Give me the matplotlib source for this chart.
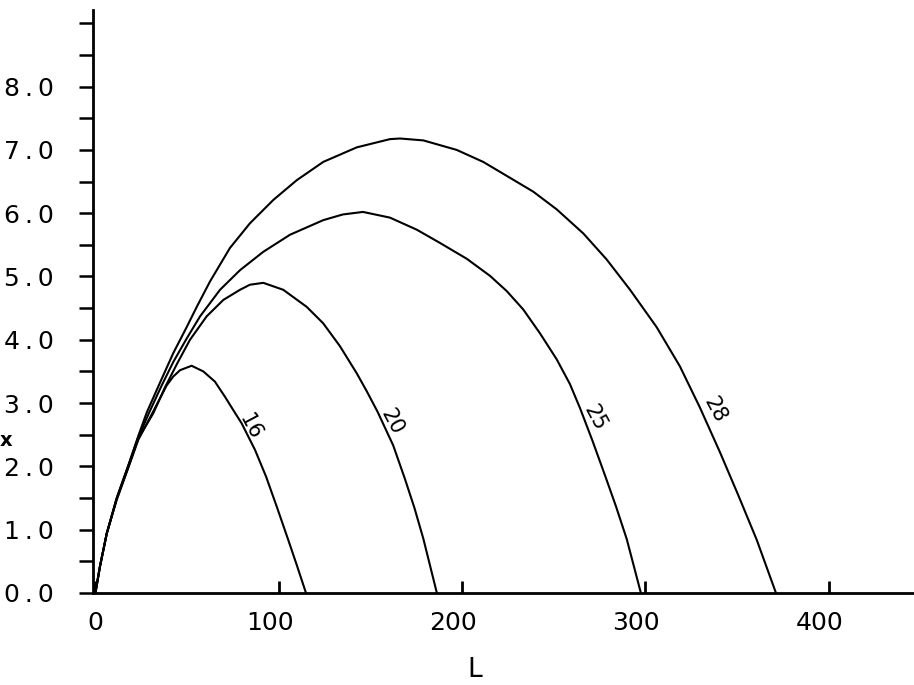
import matplotlib
matplotlib.use("Agg")
import matplotlib.pyplot as plt
import matplotlib.transforms as mtransforms

# curves, L vs x, one per labelled parameter
L_16 = [0, 2.5, 6.2, 11.6, 18, 23.4, 30.7, 38.9, 42.5, 46.2, 52.5, 58.9, 65.2, 70.7, 75,
        79.8, 87.1, 93.1, 99, 105.2, 110, 114.9]
X_16 = [0, 0.42, 0.94, 1.47, 1.98, 2.42, 2.82, 3.28, 3.42, 3.52, 3.59, 3.50, 3.34, 3.10, 2.90,
        2.68, 2.26, 1.84, 1.36, 0.84, 0.43, 0]

L_20 = [0, 2.5, 6.2, 11.6, 18, 23.4, 31.6, 38, 44.7, 51.6, 60.7, 69.8, 78.9, 84.3, 91.6,
        102.5, 115.3, 124.3, 133.4, 142.6, 148, 154, 162.5, 168.9, 174, 178.9, 186.3]
X_20 = [0, 0.42, 0.94, 1.48, 2.0, 2.44, 2.84, 3.25, 3.63, 4.0, 4.37, 4.63, 4.79, 4.87, 4.90,
        4.79, 4.52, 4.26, 3.90, 3.47, 3.19, 2.86, 2.33, 1.80, 1.35, 0.86, 0]

L_25 = [0, 2.5, 6.2, 11.6, 18, 23.4, 29.8, 36.2, 42.5, 49.8, 57.1, 68, 78.9, 91.6, 106.2,
        124.3, 135, 146, 160.7, 175.3, 188, 202.6, 215.3, 224.4, 233.4, 242.6, 251.7,
        258.9, 264.4, 271, 278, 284, 289.9, 297.6]
X_25 = [0, 0.42, 0.94, 1.49, 2.01, 2.46, 2.88, 3.28, 3.65, 4.02, 4.37, 4.79, 5.10, 5.39, 5.66,
        5.89, 5.98, 6.02, 5.93, 5.74, 5.53, 5.28, 5.01, 4.77, 4.48, 4.10, 3.69,
        3.30, 2.92, 2.42, 1.86, 1.37, 0.85, 0]

L_28 = [0, 2.5, 6.2, 11.6, 18, 23.4, 28, 35.2, 42.5, 49.8, 55.3, 62.5, 73.4, 84.3, 97.1,
        109.8, 124.3, 142.6, 160.7, 166.2, 178.9, 197.1, 211.6, 224.4, 238.9, 251.7, 266.2,
        278.9, 291.7, 306.2, 318.9, 329.8, 340.8, 350.8, 360.8, 371.3]
X_28 = [0, 0.42, 0.94, 1.50, 2.02, 2.48, 2.85, 3.32, 3.79, 4.20, 4.52, 4.92, 5.45, 5.84, 6.21,
        6.52, 6.81, 7.04, 7.17, 7.18, 7.15, 7.0, 6.81, 6.59, 6.34, 6.06, 5.68,
        5.27, 4.79, 4.20, 3.58, 2.93, 2.22, 1.54, 0.84, 0]

CURVE_LABELS = ["16", "20", "25", "28"]
LABEL_L = [84.5, 162, 272.5, 338]
LABEL_X = [2.62, 2.70, 2.76, 2.89]

X_TICKS = [0, 100, 200, 300, 400]
X_TICK_LABELS = ["0", "100", "200", "300", "400"]
Y_TICKS = [0, 1, 2, 3, 4, 5, 6, 7, 8, 9]
Y_TICK_LABELS = ["0\u2009.\u20090", "1\u2009.\u20090", "2\u2009.\u20090", "3\u2009.\u20090",
                 "4\u2009.\u20090", "5\u2009.\u20090", "6\u2009.\u20090", "7\u2009.\u20090",
                 "8\u2009.\u20090", ""]
Y_MINOR = [0.5, 1.5, 2.5, 3.5, 4.5, 5.5, 6.5, 7.5, 8.5]

plt.rcParams["font.family"] = ["DejaVu Sans"]

fig = plt.figure(figsize=(9.14, 6.85), dpi=100)
ax = fig.add_axes([93 / 914, 1 - 593 / 685, 1 - 93 / 914, (593 - 10) / 685])

for L, X in [(L_16, X_16), (L_20, X_20), (L_25, X_25), (L_28, X_28)]:
    ax.plot(L, X, color="black", lw=1.5, solid_joinstyle="round")

for txt, lx, ly in zip(CURVE_LABELS, LABEL_L, LABEL_X):
    ax.text(lx, ly, txt, fontsize=15, rotation=-62, ha="center", va="center", color="black")

ax.set_xlim(-1.3, 446.6)
ax.set_ylim(0, 9.21)

for side in ["top", "right"]:
    ax.spines[side].set_visible(False)
for side in ["left", "bottom"]:
    ax.spines[side].set_linewidth(2.0)

ax.set_xticks(X_TICKS)
ax.set_xticklabels(X_TICK_LABELS)
ax.set_yticks(Y_TICKS)
ax.set_yticklabels(Y_TICK_LABELS)
ax.set_yticks(Y_MINOR, minor=True)

ax.tick_params(axis="x", direction="in", length=9, width=2, labelsize=18, pad=13)
ax.tick_params(axis="y", which="both", direction="out", length=10, width=1.8, labelsize=18, pad=18)

# the scanned x labels sit a little left of their ticks
shift = mtransforms.ScaledTranslation(-9 / 100, 0, fig.dpi_scale_trans)
for lab in ax.get_xticklabels()[1:]:
    lab.set_transform(lab.get_transform() + shift)

ax.set_xlabel("L", fontsize=19)
ax.xaxis.set_label_coords((475 - 93) / (914 - 93), -(657 - 593) / (593 - 10), transform=ax.transAxes)
fig.text(0.0, 1 - 440 / 685, "x", fontsize=14, fontweight="bold", ha="left", va="center")

fig.savefig("out.png", dpi=100)
